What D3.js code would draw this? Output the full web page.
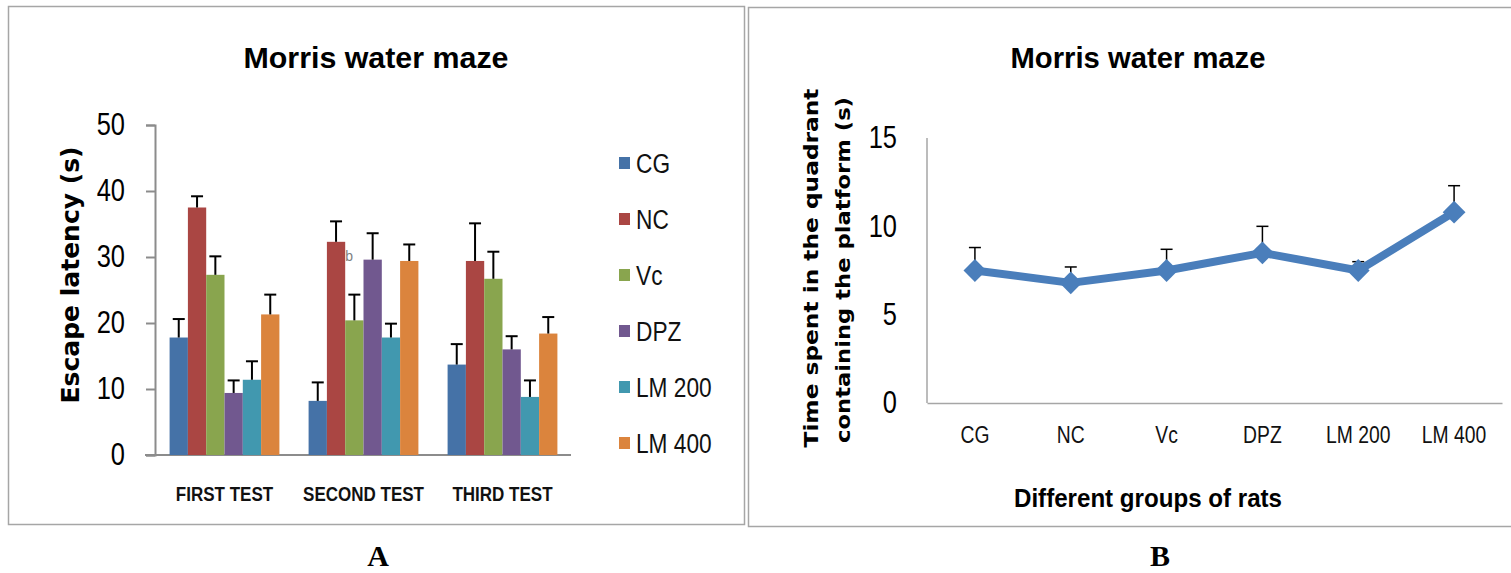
<!DOCTYPE html>
<html>
<head>
<meta charset="utf-8">
<script src="https://cdn.jsdelivr.net/npm/d3@7"></script>
<style>
  body { margin: 0; background: #fff; }
  svg { display: block; }
</style>
</head>
<body>
<div id="chart"></div>
<script>
// ---- data, panel A (escape latency, s) ----
let tests = ['FIRST TEST', 'SECOND TEST', 'THIRD TEST'];
let groups = ['CG', 'NC', 'Vc', 'DPZ', 'LM 200', 'LM 400'];
let groupColors = ['#4572A7', '#AA4643', '#89A54E', '#71588F', '#4198AF', '#DB843D'];
// one row per test, one value per group
let latencyMean = [
  [17.8, 37.5, 27.3, 9.4, 11.4, 21.3],
  [8.2, 32.3, 20.4, 29.6, 17.8, 29.4],
  [13.7, 29.4, 26.7, 16.0, 8.8, 18.4]
];
let latencyErr = [
  [2.8, 1.7, 2.8, 1.9, 2.8, 3.0],
  [2.8, 3.1, 3.9, 4.0, 2.1, 2.5],
  [3.1, 5.7, 4.1, 2.0, 2.5, 2.5]
];
let latencyTicks = [0, 10, 20, 30, 40, 50];

// ---- data, panel B (time in target quadrant, s) ----
let quadrantMean = [7.5, 6.8, 7.5, 8.5, 7.5, 10.8];
let quadrantErr = [1.3, 0.9, 1.2, 1.5, 0.5, 1.5];
let quadrantTicks = [0, 5, 10, 15];

let narrow = "'Liberation Sans Narrow', 'Arial Narrow', 'Liberation Sans', sans-serif";
let wide = "'DejaVu Sans', sans-serif";

let W = 1511, H = 573;
let svg = d3.select('#chart').append('svg').attr('width', W).attr('height', H);
svg.append('rect').attr('width', W).attr('height', H).attr('fill', '#fff');

// panel frames
svg.append('rect').attr('x', 8.5).attr('y', 6.5).attr('width', 736).attr('height', 518)
  .attr('fill', 'none').attr('stroke', '#a6a6a6').attr('stroke-width', 1.5);
svg.append('rect').attr('x', 748.5).attr('y', 7.5).attr('width', 780).attr('height', 519)
  .attr('fill', 'none').attr('stroke', '#a6a6a6').attr('stroke-width', 1.5);

function label(g, txt, x, y, size, opts){
  opts = opts || {};
  let t = g.append('text').text(txt)
    .attr('x', x).attr('y', y)
    .attr('font-family', opts.family || narrow)
    .attr('font-size', size)
    .attr('font-weight', opts.bold ? 'bold' : 'normal')
    .attr('text-anchor', opts.anchor || 'middle')
    .attr('fill', opts.fill || '#000');
  if(opts.len) t.attr('textLength', opts.len).attr('lengthAdjust', 'spacingAndGlyphs');
  if(opts.rotate) t.attr('transform', 'rotate(-90,' + x + ',' + y + ')');
  return t;
}

// squeeze a text horizontally, the narrow font is not always there
function squeeze(sel, k){
  sel.each(function(){
    let w = this.getComputedTextLength();
    d3.select(this).attr('textLength', w * k).attr('lengthAdjust', 'spacingAndGlyphs');
  });
}

// ================= Panel A =================
let a = svg.append('g').attr('class', 'panelA');

let yA = d3.scaleLinear().domain([0, 50]).range([455, 125]);
let xA = d3.scaleBand().domain(tests).range([155, 572]).paddingInner(0.21).paddingOuter(0.105);
let xInner = d3.scaleBand().domain(groups).range([0, xA.bandwidth()]);

label(a, 'Morris water maze', 376, 68, 30, {bold: true, len: 265});
label(a, 'Escape latency (s)', 79, 275, 24, {bold: true, family: wide, rotate: true, len: 257});

let yAxisA = a.append('g').attr('transform', 'translate(155,0)')
  .call(d3.axisLeft(yA).tickValues(latencyTicks).tickSize(9).tickPadding(21));
yAxisA.selectAll('text').attr('font-family', narrow).attr('font-size', 31).attr('fill', '#000');
squeeze(yAxisA.selectAll('text'), 0.82);

let xAxisA = a.append('g').attr('transform', 'translate(0,455)')
  .call(d3.axisBottom(xA).tickSize(0).tickPadding(32));
xAxisA.selectAll('text').attr('font-family', narrow).attr('font-size', 20)
  .attr('font-weight', 'bold').attr('fill', '#111');
squeeze(xAxisA.selectAll('text'), 0.85);
xAxisA.select('.domain').attr('d', 'M145,0H571');
[yAxisA, xAxisA].forEach(ax => {
  ax.select('.domain').attr('stroke', '#8c8c8c').attr('stroke-width', 2);
  ax.selectAll('line').attr('stroke', '#8c8c8c').attr('stroke-width', 2);
});

let testG = a.selectAll('.test').data(tests).enter().append('g').attr('class', 'test')
  .attr('transform', d => 'translate(' + xA(d) + ',0)');

testG.each(function(t, ti){
  let g = d3.select(this);
  let rows = groups.map((grp, gi) => ({grp: grp, gi: gi, v: latencyMean[ti][gi], e: latencyErr[ti][gi]}));
  g.selectAll('rect').data(rows).enter().append('rect')
    .attr('x', d => xInner(d.grp))
    .attr('y', d => yA(d.v))
    .attr('width', xInner.bandwidth())
    .attr('height', d => yA(0) - yA(d.v))
    .attr('fill', d => groupColors[d.gi]);
  let err = g.selectAll('.err').data(rows).enter().append('g').attr('class', 'err')
    .attr('stroke', '#000').attr('stroke-width', 2);
  err.append('line')
    .attr('x1', d => xInner(d.grp) + xInner.bandwidth() / 2)
    .attr('x2', d => xInner(d.grp) + xInner.bandwidth() / 2)
    .attr('y1', d => yA(d.v)).attr('y2', d => yA(d.v + d.e));
  err.append('line')
    .attr('x1', d => xInner(d.grp) + xInner.bandwidth() / 2 - 6)
    .attr('x2', d => xInner(d.grp) + xInner.bandwidth() / 2 + 6)
    .attr('y1', d => yA(d.v + d.e)).attr('y2', d => yA(d.v + d.e));
});

// significance letter next to NC, second test
label(a, 'b', xA('SECOND TEST') + xInner('NC') + xInner.bandwidth() + 4, yA(latencyMean[1][1]) + 19, 14, {fill: '#7f7f7f'});

// legend
let legend = a.selectAll('.legend').data(groups).enter().append('g').attr('class', 'legend')
  .attr('transform', (d, i) => 'translate(619,' + (163 + i * 56) + ')');
legend.append('rect').attr('x', 0).attr('y', -6).attr('width', 11).attr('height', 12)
  .attr('fill', (d, i) => groupColors[i]);
legend.append('text').text(d => d).attr('x', 17).attr('y', 10)
  .attr('font-family', narrow).attr('font-size', 27).attr('fill', '#111');
squeeze(legend.selectAll('text'), 0.84);

label(svg, 'A', 378, 566, 30, {bold: true, family: "'Liberation Serif', serif"});

// ================= Panel B =================
let b = svg.append('g').attr('class', 'panelB');

let yB = d3.scaleLinear().domain([0, 15]).range([403, 138]);
let xB = d3.scaleBand().domain(groups).range([927, 1502]);

label(b, 'Morris water maze', 1138, 68, 30, {bold: true, len: 255});
label(b, 'Time spent in the quadrant', 818, 268, 20, {bold: true, family: wide, rotate: true, len: 359});
label(b, 'containing the platform (s)', 850, 270, 20, {bold: true, family: wide, rotate: true, len: 346});
label(b, 'Different groups of rats', 1148, 507, 26, {bold: true, len: 268});

let yAxisB = b.append('g').attr('transform', 'translate(927,0)')
  .call(d3.axisLeft(yB).tickValues(quadrantTicks).tickSize(0).tickPadding(30));
yAxisB.selectAll('text').attr('font-family', narrow).attr('font-size', 31).attr('fill', '#000');
squeeze(yAxisB.selectAll('text'), 0.82);
yAxisB.select('.domain').attr('d', 'M0,138V403');

let xAxisB = b.append('g').attr('transform', 'translate(0,403)')
  .call(d3.axisBottom(xB).tickSize(0).tickPadding(24));
xAxisB.selectAll('text').attr('font-family', narrow).attr('font-size', 23).attr('fill', '#111');
squeeze(xAxisB.selectAll('text'), 0.84);
[yAxisB, xAxisB].forEach(ax => ax.select('.domain').attr('stroke', '#a6a6a6').attr('stroke-width', 1.5));

let pts = groups.map((grp, i) => ({grp: grp, v: quadrantMean[i], e: quadrantErr[i]}));
let cx = d => xB(d.grp) + xB.bandwidth() / 2;

let errB = b.selectAll('.errB').data(pts).enter().append('g').attr('class', 'errB')
  .attr('stroke', '#000').attr('stroke-width', 1.5);
errB.append('line').attr('x1', cx).attr('x2', cx)
  .attr('y1', d => yB(d.v)).attr('y2', d => yB(d.v + d.e));
errB.append('line').attr('x1', d => cx(d) - 6).attr('x2', d => cx(d) + 6)
  .attr('y1', d => yB(d.v + d.e)).attr('y2', d => yB(d.v + d.e));

let line = d3.line().x(cx).y(d => yB(d.v));
b.append('path').datum(pts).attr('d', line)
  .attr('fill', 'none').attr('stroke', '#4A7EBB').attr('stroke-width', 8)
  .attr('stroke-linejoin', 'round');

let diamond = d3.symbol().type(d3.symbolSquare).size(260);
b.selectAll('.marker').data(pts).enter().append('path').attr('class', 'marker')
  .attr('d', diamond)
  .attr('transform', d => 'translate(' + cx(d) + ',' + yB(d.v) + ') rotate(45)')
  .attr('fill', '#4A7EBB');

label(svg, 'B', 1160, 566, 30, {bold: true, family: "'Liberation Serif', serif"});
</script>
</body>
</html>
